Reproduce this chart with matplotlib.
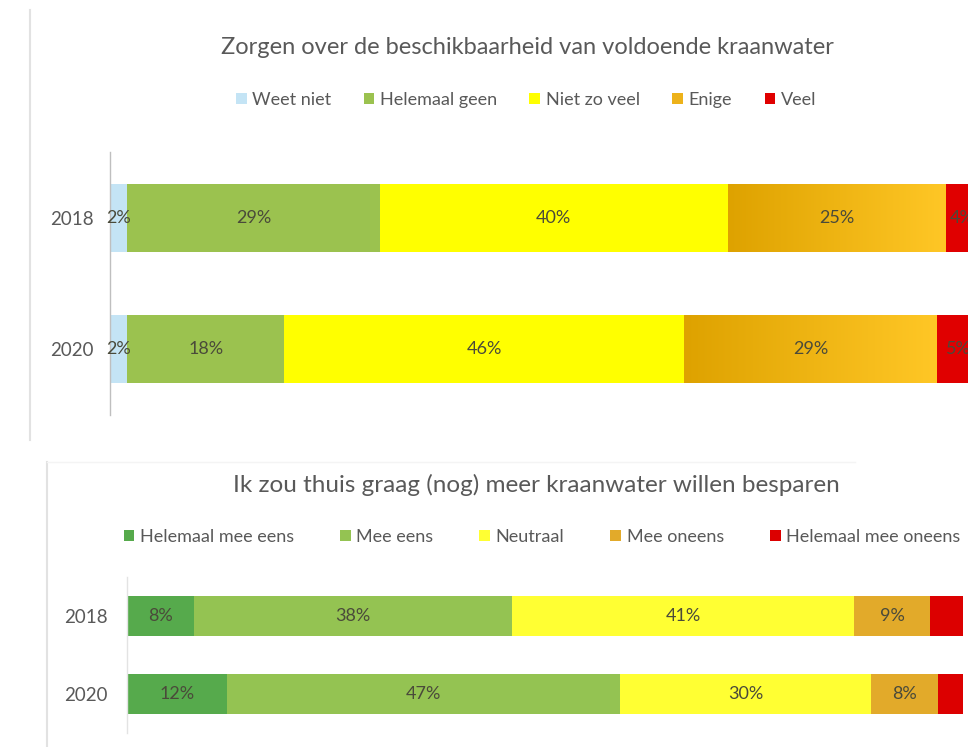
import matplotlib.pyplot as plt
import numpy as np
from matplotlib.lines import Line2D
from matplotlib.colors import LinearSegmentedColormap

plt.rcParams['font.family'] = ['Lato', 'DejaVu Sans']

# data
years = ['2018', '2020']

# bovenste grafiek: zorgen over kraanwater
top_title = 'Zorgen over de beschikbaarheid van voldoende kraanwater'
top_series = ['Weet niet', 'Helemaal geen', 'Niet zo veel', 'Enige', 'Veel']
top_values = [
    [2, 2],    # Weet niet
    [29, 18],  # Helemaal geen
    [40, 46],  # Niet zo veel
    [25, 29],  # Enige
    [4, 5],    # Veel
]
top_colors = ['#C4E4F5', '#9BC24F', '#FFFF00', '#EDB21A', '#E00000']

# onderste grafiek: water besparen
bot_title = 'Ik zou thuis graag (nog) meer kraanwater willen besparen'
bot_series = ['Helemaal mee eens', 'Mee eens', 'Neutraal', 'Mee oneens', 'Helemaal mee oneens']
bot_values = [
    [8, 12],   # Helemaal mee eens
    [38, 47],  # Mee eens
    [41, 30],  # Neutraal
    [9, 8],    # Mee oneens
    [4, 3],    # Helemaal mee oneens
]
bot_colors = ['#56AA4C', '#94C352', '#FFFF33', '#E2AA2A', '#DC0000']

W, H = 968, 747
fig = plt.figure(figsize=(W / 100, H / 100), dpi=100)
fig.patch.set_facecolor('white')


def px_axes(left, top, right, bottom):
    return fig.add_axes([left / W, 1 - bottom / H, (right - left) / W, (bottom - top) / H])


def stacked(ax, series, values, colors, label_last=True, gradient=None, pad=12):
    y = np.arange(len(years))
    left = np.zeros(len(years))
    handles = []
    for i, (name, vals) in enumerate(zip(series, values)):
        vals = np.array(vals, dtype=float)
        bars = ax.barh(y, vals, left=left, height=0.515, color=colors[i], label=name, zorder=2)
        handles.append(bars)
        if gradient is not None and i == gradient[0]:
            # Excel-achtige verloopvulling
            grad = np.linspace(0, 1, 256).reshape(1, -1)
            cmap = LinearSegmentedColormap.from_list('g', gradient[1])
            for b in bars:
                x0, y0 = b.get_x(), b.get_y()
                im = ax.imshow(grad, cmap=cmap, aspect='auto', zorder=2.5,
                               extent=[x0, x0 + b.get_width(), y0 + b.get_height(), y0])
                im.set_clip_path(b)
        if label_last or i < len(series) - 1:
            for yy, l, v in zip(y, left, vals):
                ax.text(l + v / 2, yy, f'{int(v)}%', ha='center', va='center',
                        fontsize=13, color='#4A4A3A', zorder=3)
        left += vals
    ax.set_xlim(0, 100)
    ax.set_ylim(1.5, -0.5)
    ax.set_yticks(y)
    ax.set_yticklabels(years, fontsize=13.5, color='#595959')
    ax.tick_params(axis='y', length=0, pad=pad)
    ax.set_xticks([])
    for s in ['top', 'right', 'bottom']:
        ax.spines[s].set_visible(False)
    ax.spines['left'].set_color('#BFBFBF')
    ax.spines['left'].set_linewidth(1)
    ax.set_facecolor('none')
    return handles


# bovenste grafiek (rechts afgesneden zoals in de schermafdruk)
ax1 = px_axes(110, 152, 980, 415)
h1 = stacked(ax1, top_series, top_values, top_colors, gradient=(3, ['#DEA200', '#FFC726']), pad=12)
fig.text(527 / W, 1 - 47 / H, top_title, ha='center', va='center', fontsize=17, color='#595959')
fig.legend(h1, top_series, loc='center', bbox_to_anchor=(526 / W, 1 - 100 / H), ncol=5,
           frameon=False, fontsize=13, labelcolor='#595959', handlelength=0.6,
           handleheight=0.6, handletextpad=0.3, columnspacing=1.8)

# onderste grafiek
ax2 = px_axes(127, 577, 963, 733)
h2 = stacked(ax2, bot_series, bot_values, bot_colors, label_last=False, pad=14)
ax2.spines['left'].set_color('#E3E3E3')
fig.text(536 / W, 1 - 485 / H, bot_title, ha='center', va='center', fontsize=17.5, color='#595959')
fig.legend(h2, bot_series, loc='center', bbox_to_anchor=(542 / W, 1 - 537 / H), ncol=5,
           frameon=False, fontsize=13, labelcolor='#595959', handlelength=0.6,
           handleheight=0.6, handletextpad=0.3, columnspacing=2.55)

# randen van de grafiekvlakken
fig.add_artist(Line2D([30 / W, 30 / W], [1 - 10 / H, 1 - 440 / H], color='#E2E2E2', lw=1.5))
fig.add_artist(Line2D([47 / W, 47 / W], [1 - 462 / H, 0], color='#E2E2E2', lw=1.5))
fig.add_artist(Line2D([47 / W, 855 / W], [1 - 462 / H, 1 - 462 / H], color='#F4F4F4', lw=1))

fig.savefig('out.png', dpi=100, facecolor='white')
